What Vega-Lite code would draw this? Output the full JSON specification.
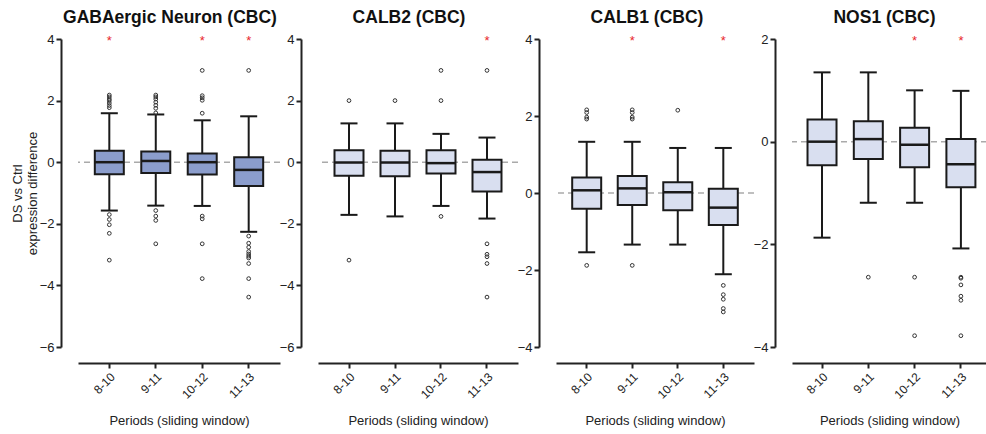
{
  "$schema": "https://vega.github.io/schema/vega-lite/v6.json",
  "padding": {"left": 11, "top": 8, "right": 0, "bottom": 0},
  "background": "white",
  "spacing": 38,
  "bounds": "flush",
  "config": {
    "font": "Liberation Sans",
    "view": {"stroke": null},
    "axis": {"labelColor": "#222", "domainColor": "#222", "tickColor": "#222", "domainWidth": 2, "tickWidth": 2, "tickSize": 5, "grid": false, "labelFontSize": 13, "titleFontSize": 13, "titleFontWeight": "normal", "titleColor": "#222"},
    "title": {"fontSize": 17.5, "fontWeight": "bold", "color": "#111", "offset": 7, "frame": "group"},
    "tick": {"opacity": 1},
    "point": {"opacity": 1}
  },
  "datasets": {
    "boxes": [
      {"panel": "GABA", "period": "8-10", "lo": -1.57, "q1": -0.39, "med": 0.0, "q3": 0.37, "hi": 1.59, "sig": 1},
      {"panel": "GABA", "period": "9-11", "lo": -1.41, "q1": -0.35, "med": 0.04, "q3": 0.35, "hi": 1.55, "sig": 0},
      {"panel": "GABA", "period": "10-12", "lo": -1.42, "q1": -0.40, "med": 0.0, "q3": 0.28, "hi": 1.36, "sig": 1},
      {"panel": "GABA", "period": "11-13", "lo": -2.26, "q1": -0.77, "med": -0.25, "q3": 0.16, "hi": 1.49, "sig": 1},
      {"panel": "CALB2", "period": "8-10", "lo": -1.71, "q1": -0.44, "med": -0.01, "q3": 0.39, "hi": 1.26, "sig": 0},
      {"panel": "CALB2", "period": "9-11", "lo": -1.76, "q1": -0.46, "med": -0.01, "q3": 0.37, "hi": 1.26, "sig": 0},
      {"panel": "CALB2", "period": "10-12", "lo": -1.42, "q1": -0.37, "med": -0.03, "q3": 0.39, "hi": 0.92, "sig": 0},
      {"panel": "CALB2", "period": "11-13", "lo": -1.83, "q1": -0.95, "med": -0.32, "q3": 0.08, "hi": 0.80, "sig": 1},
      {"panel": "CALB1", "period": "8-10", "lo": -1.54, "q1": -0.41, "med": 0.07, "q3": 0.40, "hi": 1.33, "sig": 0},
      {"panel": "CALB1", "period": "9-11", "lo": -1.34, "q1": -0.31, "med": 0.12, "q3": 0.44, "hi": 1.33, "sig": 1},
      {"panel": "CALB1", "period": "10-12", "lo": -1.34, "q1": -0.45, "med": 0.02, "q3": 0.28, "hi": 1.17, "sig": 0},
      {"panel": "CALB1", "period": "11-13", "lo": -2.11, "q1": -0.83, "med": -0.38, "q3": 0.11, "hi": 1.17, "sig": 1},
      {"panel": "NOS1", "period": "8-10", "lo": -1.87, "q1": -0.46, "med": 0.0, "q3": 0.43, "hi": 1.35, "sig": 0},
      {"panel": "NOS1", "period": "9-11", "lo": -1.19, "q1": -0.34, "med": 0.05, "q3": 0.40, "hi": 1.35, "sig": 0},
      {"panel": "NOS1", "period": "10-12", "lo": -1.19, "q1": -0.50, "med": -0.06, "q3": 0.27, "hi": 1.00, "sig": 1},
      {"panel": "NOS1", "period": "11-13", "lo": -2.08, "q1": -0.89, "med": -0.44, "q3": 0.05, "hi": 0.99, "sig": 1}
    ],
    "outliers": [
      {"panel": "GABA", "period": "8-10", "v": 2.18}, {"panel": "GABA", "period": "8-10", "v": 2.12}, {"panel": "GABA", "period": "8-10", "v": 2.05}, {"panel": "GABA", "period": "8-10", "v": 2.0}, {"panel": "GABA", "period": "8-10", "v": 1.92}, {"panel": "GABA", "period": "8-10", "v": 1.84}, {"panel": "GABA", "period": "8-10", "v": 1.77}, {"panel": "GABA", "period": "8-10", "v": -1.70}, {"panel": "GABA", "period": "8-10", "v": -1.86}, {"panel": "GABA", "period": "8-10", "v": -2.03}, {"panel": "GABA", "period": "8-10", "v": -2.31}, {"panel": "GABA", "period": "8-10", "v": -3.18},
      {"panel": "GABA", "period": "9-11", "v": 2.18}, {"panel": "GABA", "period": "9-11", "v": 2.12}, {"panel": "GABA", "period": "9-11", "v": 2.05}, {"panel": "GABA", "period": "9-11", "v": 1.95}, {"panel": "GABA", "period": "9-11", "v": 1.85}, {"panel": "GABA", "period": "9-11", "v": 1.75}, {"panel": "GABA", "period": "9-11", "v": 1.6}, {"panel": "GABA", "period": "9-11", "v": -1.57}, {"panel": "GABA", "period": "9-11", "v": -1.75}, {"panel": "GABA", "period": "9-11", "v": -1.89}, {"panel": "GABA", "period": "9-11", "v": -2.65},
      {"panel": "GABA", "period": "10-12", "v": 2.98}, {"panel": "GABA", "period": "10-12", "v": 2.16}, {"panel": "GABA", "period": "10-12", "v": 2.09}, {"panel": "GABA", "period": "10-12", "v": 2.01}, {"panel": "GABA", "period": "10-12", "v": 1.59}, {"panel": "GABA", "period": "10-12", "v": -1.75}, {"panel": "GABA", "period": "10-12", "v": -1.84}, {"panel": "GABA", "period": "10-12", "v": -2.65}, {"panel": "GABA", "period": "10-12", "v": -3.78},
      {"panel": "GABA", "period": "11-13", "v": 2.98}, {"panel": "GABA", "period": "11-13", "v": -2.40}, {"panel": "GABA", "period": "11-13", "v": -2.63}, {"panel": "GABA", "period": "11-13", "v": -2.76}, {"panel": "GABA", "period": "11-13", "v": -2.90}, {"panel": "GABA", "period": "11-13", "v": -2.98}, {"panel": "GABA", "period": "11-13", "v": -3.05}, {"panel": "GABA", "period": "11-13", "v": -3.11}, {"panel": "GABA", "period": "11-13", "v": -3.29}, {"panel": "GABA", "period": "11-13", "v": -3.78}, {"panel": "GABA", "period": "11-13", "v": -4.38},
      {"panel": "CALB2", "period": "8-10", "v": 2.0}, {"panel": "CALB2", "period": "8-10", "v": -3.18},
      {"panel": "CALB2", "period": "9-11", "v": 2.0},
      {"panel": "CALB2", "period": "10-12", "v": 2.98}, {"panel": "CALB2", "period": "10-12", "v": 2.0}, {"panel": "CALB2", "period": "10-12", "v": -1.76},
      {"panel": "CALB2", "period": "11-13", "v": 2.98}, {"panel": "CALB2", "period": "11-13", "v": -2.65}, {"panel": "CALB2", "period": "11-13", "v": -2.99}, {"panel": "CALB2", "period": "11-13", "v": -3.07}, {"panel": "CALB2", "period": "11-13", "v": -3.29}, {"panel": "CALB2", "period": "11-13", "v": -4.38},
      {"panel": "CALB1", "period": "8-10", "v": 2.16}, {"panel": "CALB1", "period": "8-10", "v": 2.09}, {"panel": "CALB1", "period": "8-10", "v": 1.97}, {"panel": "CALB1", "period": "8-10", "v": 1.92}, {"panel": "CALB1", "period": "8-10", "v": -1.88},
      {"panel": "CALB1", "period": "9-11", "v": 2.16}, {"panel": "CALB1", "period": "9-11", "v": 2.09}, {"panel": "CALB1", "period": "9-11", "v": 1.97}, {"panel": "CALB1", "period": "9-11", "v": 1.92}, {"panel": "CALB1", "period": "9-11", "v": -1.88},
      {"panel": "CALB1", "period": "10-12", "v": 2.15},
      {"panel": "CALB1", "period": "11-13", "v": -2.40}, {"panel": "CALB1", "period": "11-13", "v": -2.64}, {"panel": "CALB1", "period": "11-13", "v": -2.76}, {"panel": "CALB1", "period": "11-13", "v": -3.0}, {"panel": "CALB1", "period": "11-13", "v": -3.09},
      {"panel": "NOS1", "period": "9-11", "v": -2.64},
      {"panel": "NOS1", "period": "10-12", "v": -2.64}, {"panel": "NOS1", "period": "10-12", "v": -3.78},
      {"panel": "NOS1", "period": "11-13", "v": -2.64}, {"panel": "NOS1", "period": "11-13", "v": -2.66}, {"panel": "NOS1", "period": "11-13", "v": -2.79}, {"panel": "NOS1", "period": "11-13", "v": -3.01}, {"panel": "NOS1", "period": "11-13", "v": -3.09}, {"panel": "NOS1", "period": "11-13", "v": -3.78}
    ]
  },
  "hconcat": [
    {
      "width": 202, "height": 308,
      "title": {"text": "GABAergic Neuron (CBC)", "dx": -9},
      "layer": [
        {"data": {"name": "boxes"}, "transform": [{"filter": "datum.panel === 'GABA' && datum.period === '8-10'"}],
         "mark": {"type": "rule", "color": "#aaa", "strokeDash": [6, 4], "strokeWidth": 1.5},
         "encoding": {"y": {"datum": 0, "type": "quantitative", "scale": {"domain": [-6, 4], "nice": false, "zero": false}}}},
        {"data": {"name": "boxes"}, "transform": [{"filter": "datum.panel === 'GABA'"}],
         "mark": {"type": "rule", "color": "#1a1a1a", "strokeWidth": 2},
         "encoding": {
           "x": {"field": "period", "type": "nominal", "sort": ["8-10", "9-11", "10-12", "11-13"], "scale": {"paddingInner": 0, "paddingOuter": 0.174}, "axis": {"title": "Periods (sliding window)", "labelAngle": -45, "offset": 16, "labelFontSize": 12, "labelPadding": 3, "titlePadding": 14}},
           "y": {"field": "lo", "type": "quantitative", "scale": {"domain": [-6, 4], "nice": false, "zero": false}, "axis": {"title": ["DS vs Ctrl", "expression difference"], "values": [-6, -4, -2, 0, 2, 4], "offset": 17, "titlePadding": 0, "titleLineHeight": 15}},
           "y2": {"field": "hi"}}},
        {"data": {"name": "boxes"}, "transform": [{"filter": "datum.panel === 'GABA'"}],
         "mark": {"type": "tick", "color": "#1a1a1a", "size": 17, "thickness": 2},
         "encoding": {"x": {"field": "period", "type": "nominal", "sort": ["8-10", "9-11", "10-12", "11-13"]}, "y": {"field": "hi", "type": "quantitative"}}},
        {"data": {"name": "boxes"}, "transform": [{"filter": "datum.panel === 'GABA'"}],
         "mark": {"type": "tick", "color": "#1a1a1a", "size": 17, "thickness": 2},
         "encoding": {"x": {"field": "period", "type": "nominal", "sort": ["8-10", "9-11", "10-12", "11-13"]}, "y": {"field": "lo", "type": "quantitative"}}},
        {"data": {"name": "boxes"}, "transform": [{"filter": "datum.panel === 'GABA'"}],
         "mark": {"type": "bar", "fill": "#8b9dcc", "stroke": "#1a1a1a", "strokeWidth": 2, "width": 29},
         "encoding": {"x": {"field": "period", "type": "nominal", "sort": ["8-10", "9-11", "10-12", "11-13"]}, "y": {"field": "q1", "type": "quantitative"}, "y2": {"field": "q3"}}},
        {"data": {"name": "boxes"}, "transform": [{"filter": "datum.panel === 'GABA'"}],
         "mark": {"type": "tick", "color": "#1a1a1a", "size": 29, "thickness": 2.5},
         "encoding": {"x": {"field": "period", "type": "nominal", "sort": ["8-10", "9-11", "10-12", "11-13"]}, "y": {"field": "med", "type": "quantitative"}}},
        {"data": {"name": "outliers"}, "transform": [{"filter": "datum.panel === 'GABA'"}],
         "mark": {"type": "point", "filled": false, "color": "#333", "size": 14, "strokeWidth": 1},
         "encoding": {"x": {"field": "period", "type": "nominal", "sort": ["8-10", "9-11", "10-12", "11-13"]}, "y": {"field": "v", "type": "quantitative"}}},
        {"data": {"name": "boxes"}, "transform": [{"filter": "datum.panel === 'GABA' && datum.sig === 1"}],
         "mark": {"type": "text", "text": "*", "color": "#e8262b", "fontSize": 13, "baseline": "middle", "dy": 2},
         "encoding": {"x": {"field": "period", "type": "nominal", "sort": ["8-10", "9-11", "10-12", "11-13"]}, "y": {"datum": 4, "type": "quantitative"}}}
      ]
    },
    {
      "width": 200, "height": 308,
      "title": {"text": "CALB2 (CBC)", "dx": -9},
      "layer": [
        {"data": {"name": "boxes"}, "transform": [{"filter": "datum.panel === 'CALB2' && datum.period === '8-10'"}],
         "mark": {"type": "rule", "color": "#aaa", "strokeDash": [6, 4], "strokeWidth": 1.5},
         "encoding": {"y": {"datum": 0, "type": "quantitative", "scale": {"domain": [-6, 4], "nice": false, "zero": false}}}},
        {"data": {"name": "boxes"}, "transform": [{"filter": "datum.panel === 'CALB2'"}],
         "mark": {"type": "rule", "color": "#1a1a1a", "strokeWidth": 2},
         "encoding": {
           "x": {"field": "period", "type": "nominal", "sort": ["8-10", "9-11", "10-12", "11-13"], "scale": {"paddingInner": 0, "paddingOuter": 0.174}, "axis": {"title": "Periods (sliding window)", "labelAngle": -45, "offset": 16, "labelFontSize": 12, "labelPadding": 3, "titlePadding": 14}},
           "y": {"field": "lo", "type": "quantitative", "scale": {"domain": [-6, 4], "nice": false, "zero": false}, "axis": {"title": null, "values": [-6, -4, -2, 0, 2, 4], "offset": 17}},
           "y2": {"field": "hi"}}},
        {"data": {"name": "boxes"}, "transform": [{"filter": "datum.panel === 'CALB2'"}],
         "mark": {"type": "tick", "color": "#1a1a1a", "size": 17, "thickness": 2},
         "encoding": {"x": {"field": "period", "type": "nominal", "sort": ["8-10", "9-11", "10-12", "11-13"]}, "y": {"field": "hi", "type": "quantitative"}}},
        {"data": {"name": "boxes"}, "transform": [{"filter": "datum.panel === 'CALB2'"}],
         "mark": {"type": "tick", "color": "#1a1a1a", "size": 17, "thickness": 2},
         "encoding": {"x": {"field": "period", "type": "nominal", "sort": ["8-10", "9-11", "10-12", "11-13"]}, "y": {"field": "lo", "type": "quantitative"}}},
        {"data": {"name": "boxes"}, "transform": [{"filter": "datum.panel === 'CALB2'"}],
         "mark": {"type": "bar", "fill": "#d9dff0", "stroke": "#1a1a1a", "strokeWidth": 2, "width": 29},
         "encoding": {"x": {"field": "period", "type": "nominal", "sort": ["8-10", "9-11", "10-12", "11-13"]}, "y": {"field": "q1", "type": "quantitative"}, "y2": {"field": "q3"}}},
        {"data": {"name": "boxes"}, "transform": [{"filter": "datum.panel === 'CALB2'"}],
         "mark": {"type": "tick", "color": "#1a1a1a", "size": 29, "thickness": 2.5},
         "encoding": {"x": {"field": "period", "type": "nominal", "sort": ["8-10", "9-11", "10-12", "11-13"]}, "y": {"field": "med", "type": "quantitative"}}},
        {"data": {"name": "outliers"}, "transform": [{"filter": "datum.panel === 'CALB2'"}],
         "mark": {"type": "point", "filled": false, "color": "#333", "size": 14, "strokeWidth": 1},
         "encoding": {"x": {"field": "period", "type": "nominal", "sort": ["8-10", "9-11", "10-12", "11-13"]}, "y": {"field": "v", "type": "quantitative"}}},
        {"data": {"name": "boxes"}, "transform": [{"filter": "datum.panel === 'CALB2' && datum.sig === 1"}],
         "mark": {"type": "text", "text": "*", "color": "#e8262b", "fontSize": 13, "baseline": "middle", "dy": 2},
         "encoding": {"x": {"field": "period", "type": "nominal", "sort": ["8-10", "9-11", "10-12", "11-13"]}, "y": {"datum": 4, "type": "quantitative"}}}
      ]
    },
    {
      "width": 198, "height": 308,
      "title": {"text": "CALB1 (CBC)", "dx": -8},
      "layer": [
        {"data": {"name": "boxes"}, "transform": [{"filter": "datum.panel === 'CALB1' && datum.period === '8-10'"}],
         "mark": {"type": "rule", "color": "#aaa", "strokeDash": [6, 4], "strokeWidth": 1.5},
         "encoding": {"y": {"datum": 0, "type": "quantitative", "scale": {"domain": [-4, 4], "nice": false, "zero": false}}}},
        {"data": {"name": "boxes"}, "transform": [{"filter": "datum.panel === 'CALB1'"}],
         "mark": {"type": "rule", "color": "#1a1a1a", "strokeWidth": 2},
         "encoding": {
           "x": {"field": "period", "type": "nominal", "sort": ["8-10", "9-11", "10-12", "11-13"], "scale": {"paddingInner": 0, "paddingOuter": 0.174}, "axis": {"title": "Periods (sliding window)", "labelAngle": -45, "offset": 16, "labelFontSize": 12, "labelPadding": 3, "titlePadding": 14}},
           "y": {"field": "lo", "type": "quantitative", "scale": {"domain": [-4, 4], "nice": false, "zero": false}, "axis": {"title": null, "values": [-4, -2, 0, 2, 4], "offset": 17}},
           "y2": {"field": "hi"}}},
        {"data": {"name": "boxes"}, "transform": [{"filter": "datum.panel === 'CALB1'"}],
         "mark": {"type": "tick", "color": "#1a1a1a", "size": 17, "thickness": 2},
         "encoding": {"x": {"field": "period", "type": "nominal", "sort": ["8-10", "9-11", "10-12", "11-13"]}, "y": {"field": "hi", "type": "quantitative"}}},
        {"data": {"name": "boxes"}, "transform": [{"filter": "datum.panel === 'CALB1'"}],
         "mark": {"type": "tick", "color": "#1a1a1a", "size": 17, "thickness": 2},
         "encoding": {"x": {"field": "period", "type": "nominal", "sort": ["8-10", "9-11", "10-12", "11-13"]}, "y": {"field": "lo", "type": "quantitative"}}},
        {"data": {"name": "boxes"}, "transform": [{"filter": "datum.panel === 'CALB1'"}],
         "mark": {"type": "bar", "fill": "#d9dff0", "stroke": "#1a1a1a", "strokeWidth": 2, "width": 29},
         "encoding": {"x": {"field": "period", "type": "nominal", "sort": ["8-10", "9-11", "10-12", "11-13"]}, "y": {"field": "q1", "type": "quantitative"}, "y2": {"field": "q3"}}},
        {"data": {"name": "boxes"}, "transform": [{"filter": "datum.panel === 'CALB1'"}],
         "mark": {"type": "tick", "color": "#1a1a1a", "size": 29, "thickness": 2.5},
         "encoding": {"x": {"field": "period", "type": "nominal", "sort": ["8-10", "9-11", "10-12", "11-13"]}, "y": {"field": "med", "type": "quantitative"}}},
        {"data": {"name": "outliers"}, "transform": [{"filter": "datum.panel === 'CALB1'"}],
         "mark": {"type": "point", "filled": false, "color": "#333", "size": 14, "strokeWidth": 1},
         "encoding": {"x": {"field": "period", "type": "nominal", "sort": ["8-10", "9-11", "10-12", "11-13"]}, "y": {"field": "v", "type": "quantitative"}}},
        {"data": {"name": "boxes"}, "transform": [{"filter": "datum.panel === 'CALB1' && datum.sig === 1"}],
         "mark": {"type": "text", "text": "*", "color": "#e8262b", "fontSize": 13, "baseline": "middle", "dy": 2},
         "encoding": {"x": {"field": "period", "type": "nominal", "sort": ["8-10", "9-11", "10-12", "11-13"]}, "y": {"datum": 4, "type": "quantitative"}}}
      ]
    },
    {
      "width": 195, "height": 308,
      "title": {"text": "NOS1 (CBC)", "dx": -5},
      "layer": [
        {"data": {"name": "boxes"}, "transform": [{"filter": "datum.panel === 'NOS1' && datum.period === '8-10'"}],
         "mark": {"type": "rule", "color": "#aaa", "strokeDash": [6, 4], "strokeWidth": 1.5},
         "encoding": {"y": {"datum": 0, "type": "quantitative", "scale": {"domain": [-4, 2], "nice": false, "zero": false}}}},
        {"data": {"name": "boxes"}, "transform": [{"filter": "datum.panel === 'NOS1'"}],
         "mark": {"type": "rule", "color": "#1a1a1a", "strokeWidth": 2},
         "encoding": {
           "x": {"field": "period", "type": "nominal", "sort": ["8-10", "9-11", "10-12", "11-13"], "scale": {"paddingInner": 0, "paddingOuter": 0.106, "align": 0.7}, "axis": {"title": "Periods (sliding window)", "labelAngle": -45, "offset": 16, "labelFontSize": 12, "labelPadding": 3, "titlePadding": 14}},
           "y": {"field": "lo", "type": "quantitative", "scale": {"domain": [-4, 2], "nice": false, "zero": false}, "axis": {"title": null, "values": [-4, -2, 0, 2], "offset": 17}},
           "y2": {"field": "hi"}}},
        {"data": {"name": "boxes"}, "transform": [{"filter": "datum.panel === 'NOS1'"}],
         "mark": {"type": "tick", "color": "#1a1a1a", "size": 17, "thickness": 2},
         "encoding": {"x": {"field": "period", "type": "nominal", "sort": ["8-10", "9-11", "10-12", "11-13"]}, "y": {"field": "hi", "type": "quantitative"}}},
        {"data": {"name": "boxes"}, "transform": [{"filter": "datum.panel === 'NOS1'"}],
         "mark": {"type": "tick", "color": "#1a1a1a", "size": 17, "thickness": 2},
         "encoding": {"x": {"field": "period", "type": "nominal", "sort": ["8-10", "9-11", "10-12", "11-13"]}, "y": {"field": "lo", "type": "quantitative"}}},
        {"data": {"name": "boxes"}, "transform": [{"filter": "datum.panel === 'NOS1'"}],
         "mark": {"type": "bar", "fill": "#d9dff0", "stroke": "#1a1a1a", "strokeWidth": 2, "width": 29},
         "encoding": {"x": {"field": "period", "type": "nominal", "sort": ["8-10", "9-11", "10-12", "11-13"]}, "y": {"field": "q1", "type": "quantitative"}, "y2": {"field": "q3"}}},
        {"data": {"name": "boxes"}, "transform": [{"filter": "datum.panel === 'NOS1'"}],
         "mark": {"type": "tick", "color": "#1a1a1a", "size": 29, "thickness": 2.5},
         "encoding": {"x": {"field": "period", "type": "nominal", "sort": ["8-10", "9-11", "10-12", "11-13"]}, "y": {"field": "med", "type": "quantitative"}}},
        {"data": {"name": "outliers"}, "transform": [{"filter": "datum.panel === 'NOS1'"}],
         "mark": {"type": "point", "filled": false, "color": "#333", "size": 14, "strokeWidth": 1},
         "encoding": {"x": {"field": "period", "type": "nominal", "sort": ["8-10", "9-11", "10-12", "11-13"]}, "y": {"field": "v", "type": "quantitative"}}},
        {"data": {"name": "boxes"}, "transform": [{"filter": "datum.panel === 'NOS1' && datum.sig === 1"}],
         "mark": {"type": "text", "text": "*", "color": "#e8262b", "fontSize": 13, "baseline": "middle", "dy": 2},
         "encoding": {"x": {"field": "period", "type": "nominal", "sort": ["8-10", "9-11", "10-12", "11-13"]}, "y": {"datum": 2, "type": "quantitative"}}}
      ]
    }
  ]
}
